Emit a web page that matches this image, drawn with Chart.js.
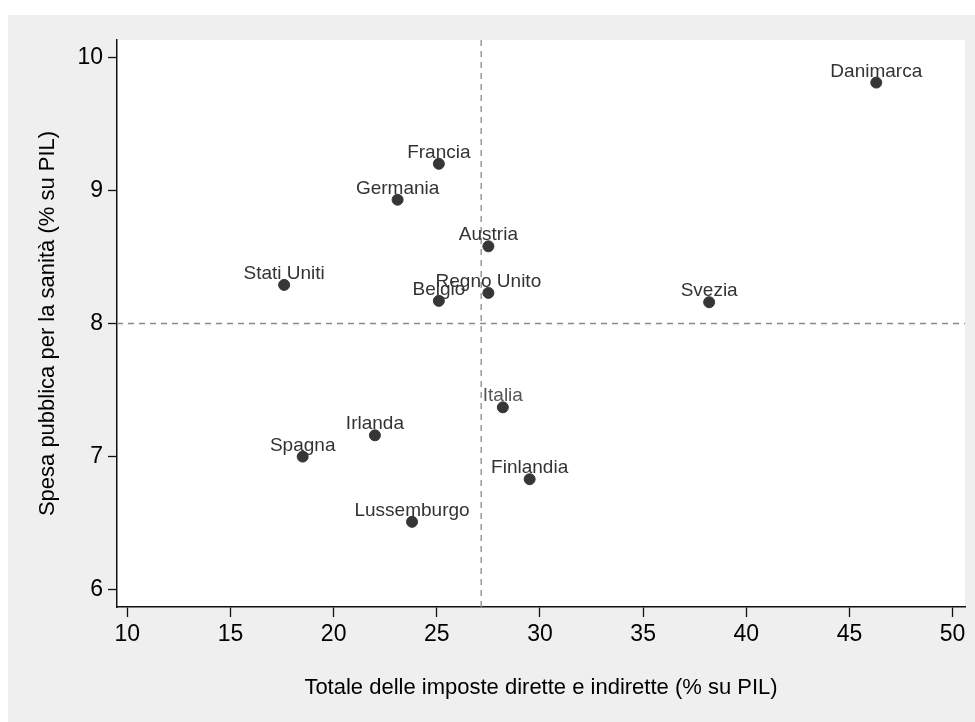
<!DOCTYPE html>
<html>
<head>
<meta charset="utf-8">
<script src="https://cdn.jsdelivr.net/npm/chart.js@4.4.1/dist/chart.umd.min.js"></script>
<style>
  html, body { margin: 0; padding: 0; background: #ffffff; }
  #wrap { width: 975px; height: 722px; position: relative; }
</style>
</head>
<body>
<div id="wrap"><canvas id="scatterChart" width="975" height="722"></canvas></div>
<script>
// countries and values
const countries = ['Danimarca', 'Francia', 'Germania', 'Austria', 'Stati Uniti', 'Regno Unito',
    'Belgio', 'Svezia', 'Italia', 'Irlanda', 'Spagna', 'Finlandia', 'Lussemburgo'];
const taxes = [46.3, 25.1, 23.1, 27.5, 17.6, 27.5, 25.1, 38.2, 28.2, 22.0, 18.5, 29.5, 23.8];
const healthSpending = [9.81, 9.20, 8.93, 8.58, 8.29, 8.23, 8.17, 8.16, 7.37, 7.16, 7.00, 6.83, 6.51];

const xTicks = [10, 15, 20, 25, 30, 35, 40, 45, 50];
const yTicks = [6, 7, 8, 9, 10];

// mean lines
const meanTaxes = 27.15;
const meanHealth = 8.0;

const FONT = "'Liberation Sans', Arial, Helvetica, sans-serif";

const backgroundPlugin = {
    id: 'backgrounds',
    beforeDraw(chart) {
        const { ctx, chartArea } = chart;
        ctx.save();
        ctx.fillStyle = '#efefef';
        ctx.fillRect(8, 15, chart.width - 8, chart.height - 15);
        ctx.fillStyle = '#ffffff';
        ctx.fillRect(chartArea.left, chartArea.top, chartArea.right - chartArea.left, chartArea.bottom - chartArea.top);
        ctx.restore();
    }
};

const meanLinesPlugin = {
    id: 'meanLines',
    beforeDatasetsDraw(chart) {
        const { ctx, chartArea, scales } = chart;
        const px = scales.x.getPixelForValue(meanTaxes);
        const py = scales.y.getPixelForValue(meanHealth);
        ctx.save();
        ctx.strokeStyle = '#8a8a8a';
        ctx.lineWidth = 1.3;
        ctx.setLineDash([6, 5]);
        ctx.beginPath();
        ctx.moveTo(px, chartArea.top);
        ctx.lineTo(px, chartArea.bottom);
        ctx.moveTo(chartArea.left, py);
        ctx.lineTo(chartArea.right, py);
        ctx.stroke();
        ctx.restore();
    }
};

const pointLabelsPlugin = {
    id: 'pointLabels',
    afterDatasetsDraw(chart) {
        const { ctx } = chart;
        const meta = chart.getDatasetMeta(0);
        ctx.save();
        ctx.font = '19px ' + FONT;
        ctx.textAlign = 'center';
        ctx.textBaseline = 'alphabetic';
        meta.data.forEach((pt, i) => {
            ctx.fillStyle = countries[i] === 'Italia' ? '#555555' : '#333333';
            ctx.fillText(countries[i], pt.x, pt.y - 6);
        });
        ctx.restore();
    }
};

const ctx = document.getElementById('scatterChart').getContext('2d');
new Chart(ctx, {
    type: 'scatter',
    data: {
        datasets: [{
            label: 'Paesi',
            data: taxes.map((t, i) => ({ x: t, y: healthSpending[i] })),
            backgroundColor: '#363636',
            borderColor: '#363636',
            pointRadius: 5.5,
            pointHoverRadius: 5.5
        }]
    },
    options: {
        responsive: false,
        animation: false,
        layout: {
            padding: { left: 0, top: 40, right: 10, bottom: 0 }
        },
        plugins: {
            legend: { display: false },
            tooltip: { enabled: false }
        },
        scales: {
            x: {
                type: 'linear',
                min: 9.5,
                max: 50.6,
                afterBuildTicks(scale) {
                    scale.ticks = xTicks.map(v => ({ value: v }));
                },
                afterFit(scale) {
                    scale.height = 115;
                },
                grid: {
                    drawOnChartArea: false,
                    drawTicks: true,
                    tickLength: 10,
                    tickWidth: 1.3,
                    tickColor: '#111111'
                },
                border: { display: true, color: '#111111', width: 1.5 },
                ticks: {
                    color: '#000000',
                    padding: 4,
                    maxRotation: 0,
                    font: { family: FONT, size: 23 }
                },
                title: {
                    display: true,
                    text: 'Totale delle imposte dirette e indirette (% su PIL)',
                    color: '#000000',
                    font: { family: FONT, size: 22 },
                    padding: { top: 0, bottom: 21 }
                }
            },
            y: {
                type: 'linear',
                min: 5.87,
                max: 10.13,
                afterBuildTicks(scale) {
                    scale.ticks = yTicks.map(v => ({ value: v }));
                },
                afterFit(scale) {
                    scale.width = 117;
                },
                grid: {
                    drawOnChartArea: false,
                    drawTicks: true,
                    tickLength: 9,
                    tickWidth: 1.3,
                    tickColor: '#111111'
                },
                border: { display: true, color: '#111111', width: 1.5 },
                ticks: {
                    color: '#000000',
                    padding: 5,
                    font: { family: FONT, size: 23 }
                },
                title: {
                    display: true,
                    text: 'Spesa pubblica per la sanità (% su PIL)',
                    color: '#000000',
                    font: { family: FONT, size: 22 },
                    padding: { top: 35, bottom: 0 }
                }
            }
        }
    },
    plugins: [backgroundPlugin, meanLinesPlugin, pointLabelsPlugin]
});
</script>
</body>
</html>
